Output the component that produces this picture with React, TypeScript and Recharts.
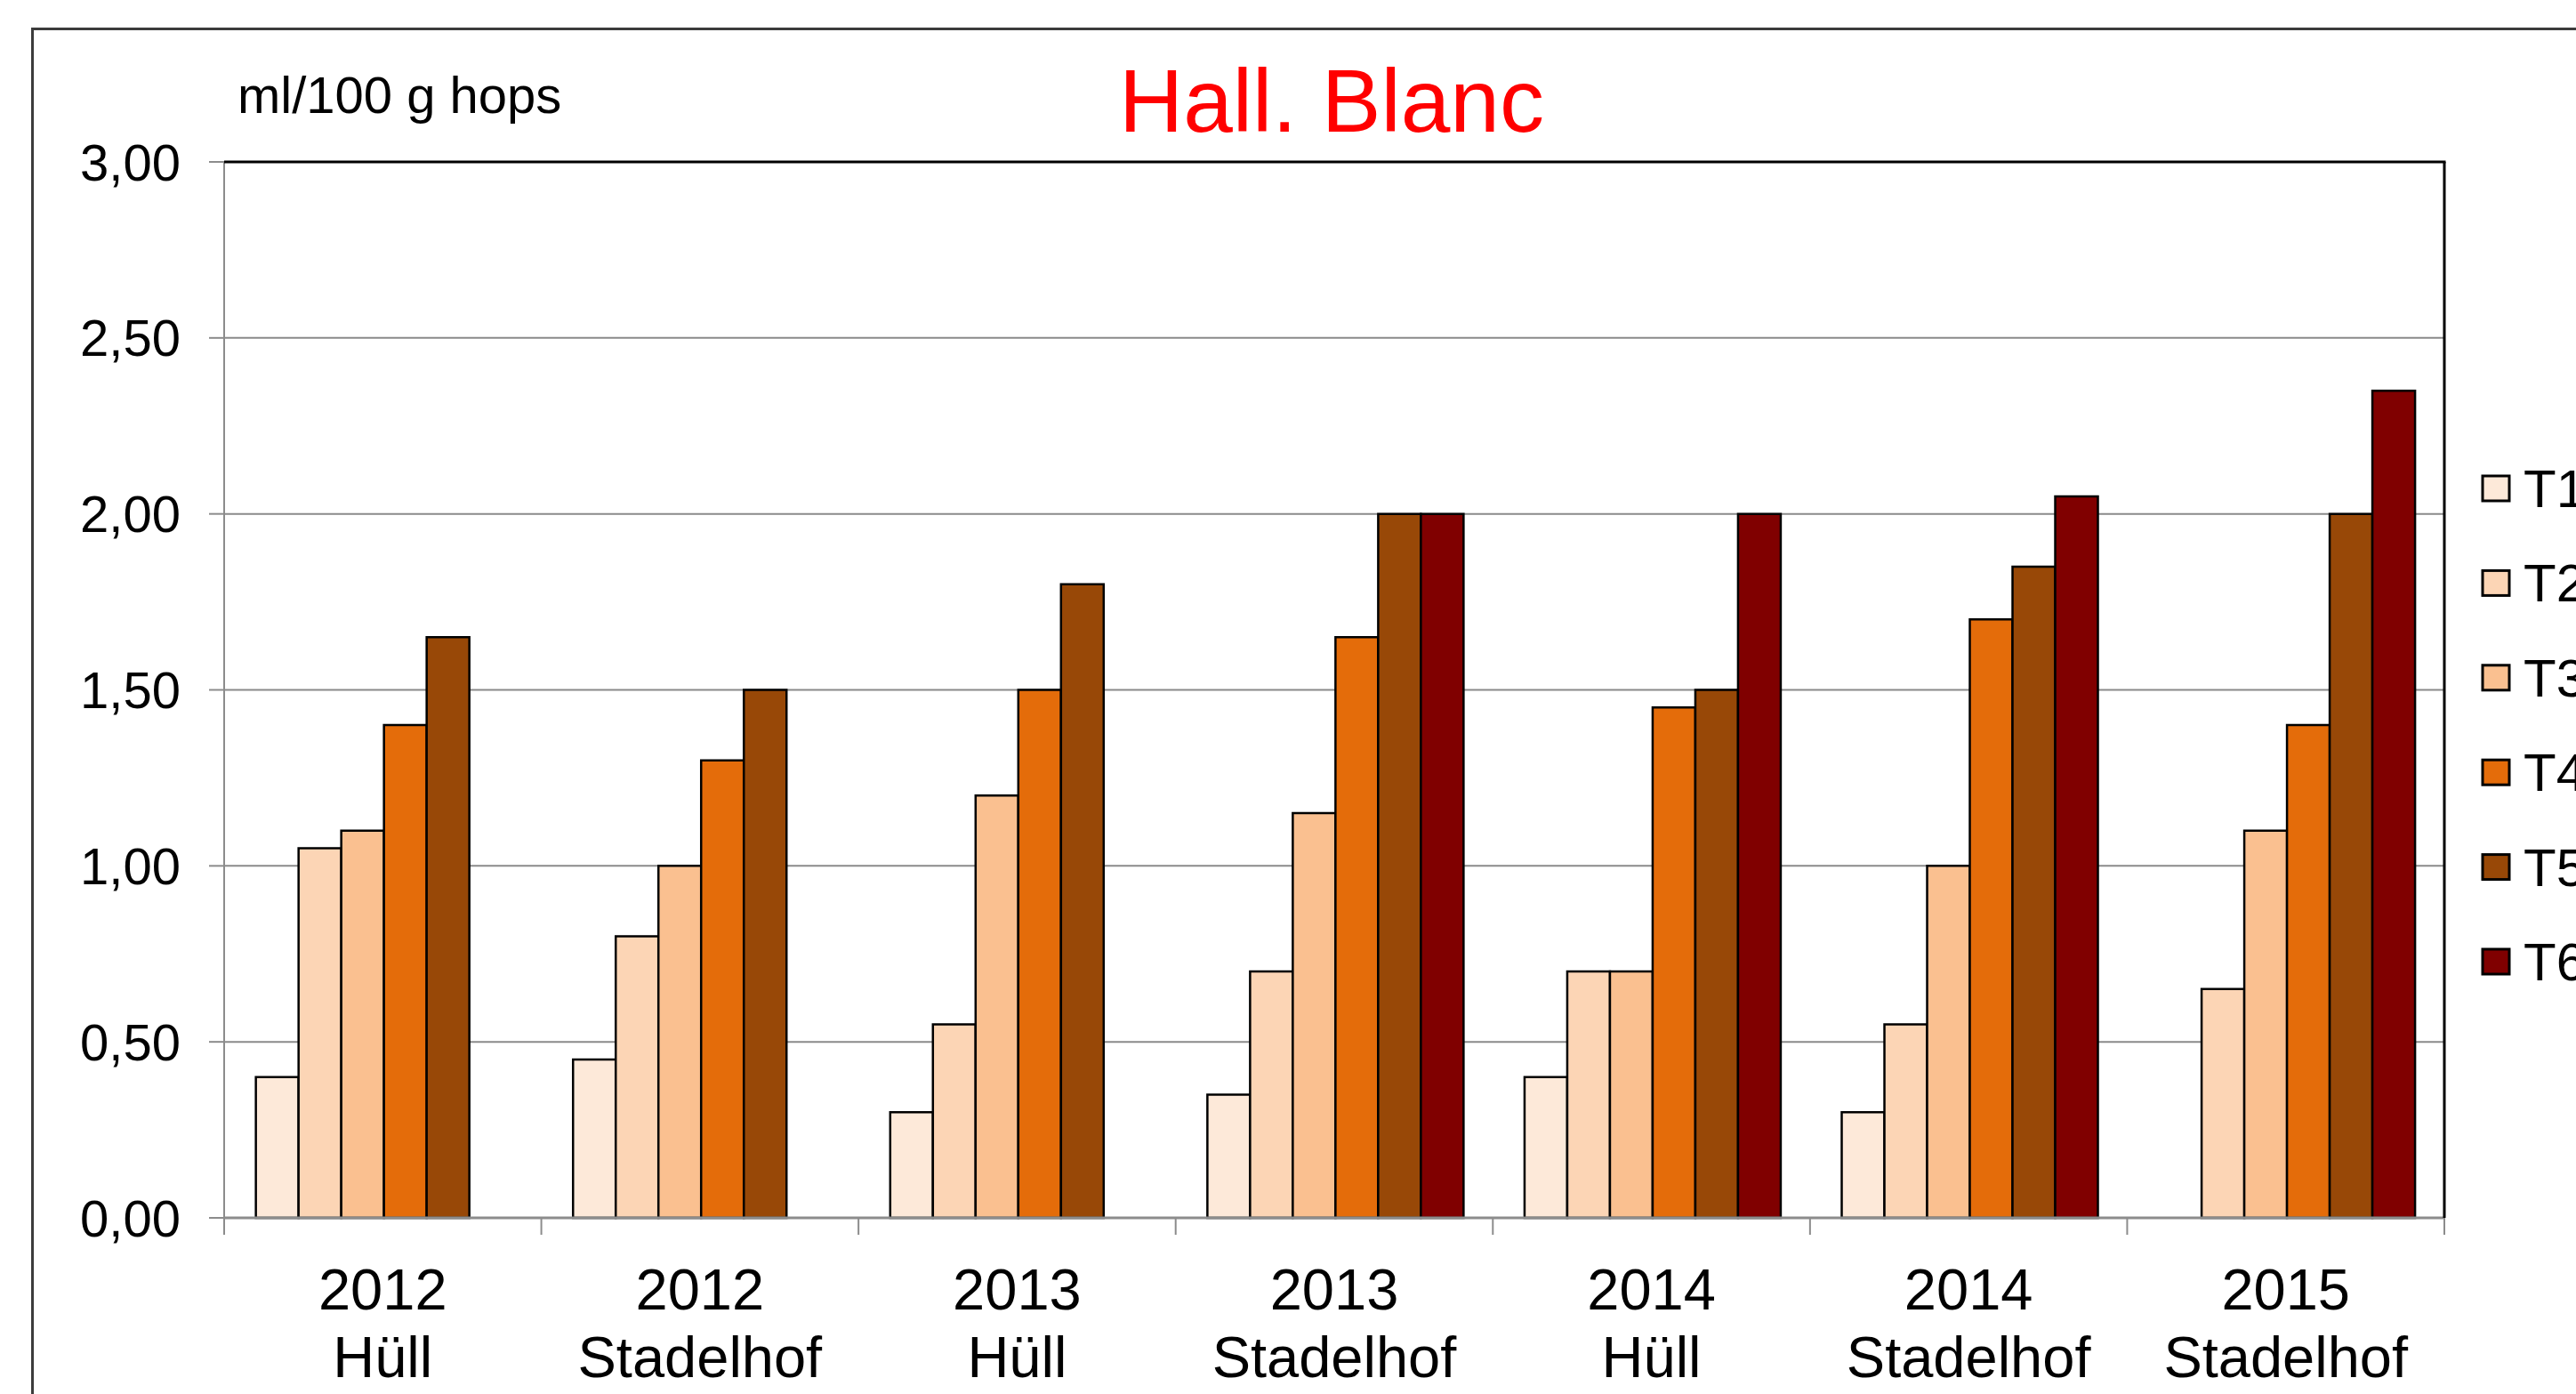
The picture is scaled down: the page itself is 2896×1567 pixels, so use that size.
import React from 'react';
import { BarChart, Bar, XAxis, YAxis, CartesianGrid, Legend } from 'recharts';

const years = ['2012', '2012', '2013', '2013', '2014', '2014', '2015'];
const sites = ['Hüll', 'Stadelhof', 'Hüll', 'Stadelhof', 'Hüll', 'Stadelhof', 'Stadelhof'];

const T1 = [0.4, 0.45, 0.3, 0.35, 0.4, 0.3, null];
const T2 = [1.05, 0.8, 0.55, 0.7, 0.7, 0.55, 0.65];
const T3 = [1.1, 1.0, 1.2, 1.15, 0.7, 1.0, 1.1];
const T4 = [1.4, 1.3, 1.5, 1.65, 1.45, 1.7, 1.4];
const T5 = [1.65, 1.5, 1.8, 2.0, 1.5, 1.85, 2.0];
const T6 = [null, null, null, 2.0, 2.0, 2.05, 2.35];

const seriesNames = ['T1', 'T2', 'T3', 'T4', 'T5', 'T6'];
const seriesValues = [T1, T2, T3, T4, T5, T6];
const seriesColors = ['#FDE9D9', '#FCD5B5', '#FAC090', '#E46C0A', '#984807', '#800000'];
const yTicks = [0, 0.5, 1, 1.5, 2, 2.5, 3];

const title = 'Hall. Blanc';
const unitLabel = 'ml/100 g hops';

const data = years.map((yr, i) => {
  const row: Record<string, any> = { name: `${yr} ${sites[i]}` };
  seriesNames.forEach((s, k) => {
    row[s] = seriesValues[k][i];
  });
  return row;
});

const FONT = '"Liberation Sans", Arial, sans-serif';
const W = 2896;
const H = 1567;
const M = { top: 182, right: 148, bottom: 0, left: 0 };
const Y_AXIS_W = 252;
const X_AXIS_H = 198;
const PLOT_L = M.left + Y_AXIS_W;
const PLOT_R = W - M.right;
const PLOT_T = M.top;
const PLOT_B = H - M.bottom - X_AXIS_H;

const XTick = (props: any) => {
  const { x, y, payload, index, visibleTicksCount } = props;
  const count = visibleTicksCount || years.length;
  const band = (PLOT_R - PLOT_L) / count;
  const parts = String(payload.value).split(' ');
  return (
    <g>
      <line x1={x - band / 2} x2={x - band / 2} y1={y} y2={y + 19} stroke="#8c8c8c" strokeWidth={2} />
      {index === count - 1 && (
        <line x1={x + band / 2} x2={x + band / 2} y1={y} y2={y + 19} stroke="#8c8c8c" strokeWidth={2} />
      )}
      <text x={x} y={y + 103} textAnchor="middle" fontSize={65} fontFamily={FONT} fill="#000">
        {parts[0]}
      </text>
      <text x={x} y={y + 179} textAnchor="middle" fontSize={65} fontFamily={FONT} fill="#000">
        {parts.slice(1).join(' ')}
      </text>
    </g>
  );
};

const LegendContent = (props: any) => {
  const payload =
    props && props.payload && props.payload.length
      ? props.payload.map((p: any) => ({ value: p.value, color: p.color }))
      : seriesNames.map((n, i) => ({ value: n, color: seriesColors[i] }));
  return (
    <svg width={108} height={660} style={{ display: 'block', overflow: 'visible' }}>
      {payload.map((p: any, i: number) => (
        <g key={p.value} transform={`translate(0, ${i * 106.4})`}>
          <rect x={3} y={15} width={30} height={28} fill={p.color} stroke="#000" strokeWidth={3} />
          <text x={49} y={50} fontSize={60} fontFamily={FONT} fill="#000">
            {p.value}
          </text>
        </g>
      ))}
    </svg>
  );
};

export default function App() {
  return (
    <div
      style={{
        position: 'absolute',
        left: 0,
        top: 0,
        width: W,
        height: H,
        overflow: 'hidden',
        background: '#fff',
        fontFamily: FONT,
      }}
    >
      <div
        style={{
          position: 'absolute',
          left: 35,
          top: 31,
          width: 4000,
          height: 4000,
          border: '3px solid #3c3c3c',
          boxSizing: 'border-box',
        }}
      />
      <div style={{ position: 'absolute', left: 0, top: 0 }}>
        <BarChart
          width={W}
          height={H}
          data={data}
          margin={M}
          barCategoryGap="10%"
          barGap={0}
        >
          <CartesianGrid vertical={false} stroke="#8a8a8a" strokeWidth={2} />
          <XAxis
            dataKey="name"
            height={X_AXIS_H}
            interval={0}
            tickSize={0}
            tickMargin={0}
            tickLine={false}
            axisLine={{ stroke: '#8c8c8c', strokeWidth: 3 }}
            tick={<XTick />}
          />
          <YAxis
            width={Y_AXIS_W}
            domain={[0, 3]}
            ticks={yTicks}
            interval={0}
            tickSize={17}
            tickMargin={32}
            tickFormatter={(v: number) => v.toFixed(2).replace('.', ',')}
            axisLine={{ stroke: '#8c8c8c', strokeWidth: 2 }}
            tickLine={{ stroke: '#8c8c8c', strokeWidth: 2 }}
            tick={{ fill: '#000', fontSize: 58, fontFamily: FONT }}
          />
          <Legend
            layout="vertical"
            align="center"
            verticalAlign="middle"
            content={<LegendContent />}
            wrapperStyle={{ position: 'absolute', left: 2788, top: 520, width: 108, height: 660 }}
          />
          {seriesNames.map((s, i) => (
            <Bar
              key={s}
              dataKey={s}
              name={s}
              fill={seriesColors[i]}
              stroke="#000"
              strokeWidth={2.5}
              isAnimationActive={false}
            />
          ))}
        </BarChart>
      </div>
      <svg
        width={W}
        height={H}
        style={{ position: 'absolute', left: 0, top: 0, pointerEvents: 'none' }}
      >
        <line x1={PLOT_L} x2={PLOT_R + 1.5} y1={PLOT_T} y2={PLOT_T} stroke="#000" strokeWidth={3} />
        <line x1={PLOT_R} x2={PLOT_R} y1={PLOT_T} y2={PLOT_B} stroke="#000" strokeWidth={3} />
        <text x={1497} y={148} textAnchor="middle" fontSize={100} fontFamily={FONT} fill="#FF0000">
          {title}
        </text>
        <text x={267} y={127} fontSize={58} fontFamily={FONT} fill="#000">
          {unitLabel}
        </text>
      </svg>
    </div>
  );
}
